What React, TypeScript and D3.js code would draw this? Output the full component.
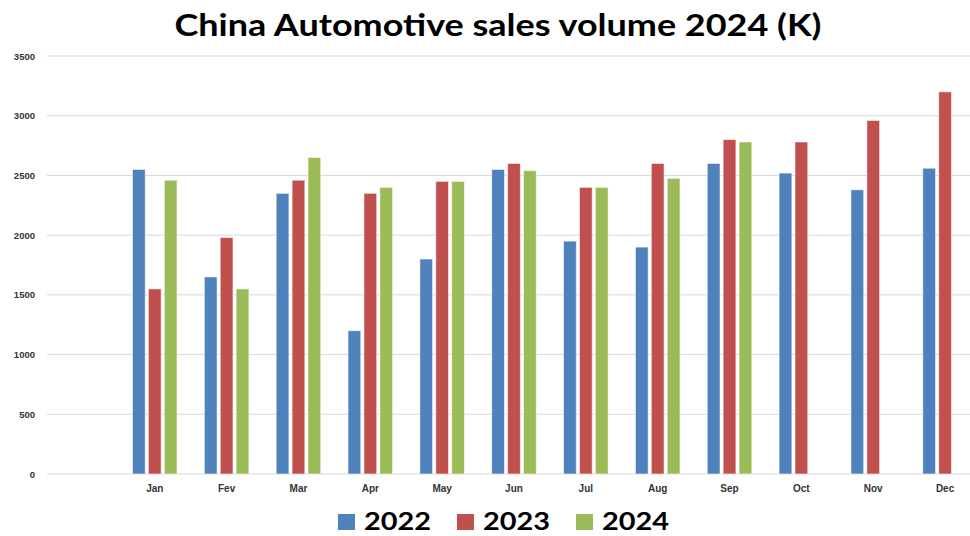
import React from "react";
import * as d3 from "d3";

const months = ["Jan", "Fev", "Mar", "Apr", "May", "Jun", "Jul", "Aug", "Sep", "Oct", "Nov", "Dec"];
const years = ["2022", "2023", "2024"];
const sales2022 = [2550, 1650, 2350, 1200, 1800, 2550, 1950, 1900, 2600, 2520, 2380, 2560];
const sales2023 = [1550, 1980, 2460, 2350, 2450, 2600, 2400, 2600, 2800, 2780, 2960, 3200];
const sales2024 = [2460, 1550, 2650, 2400, 2450, 2540, 2400, 2475, 2780, null, null, null];
const yTicks = [0, 500, 1000, 1500, 2000, 2500, 3000, 3500];
const colors = ["#4F81BD", "#C0504D", "#9BBB59"];

const W = 970;
const H = 536;

export default function App() {
  const series = [sales2022, sales2023, sales2024];

  // first slot is an empty category, like in the source chart
  const x0 = d3
    .scaleBand<string>()
    .domain(["", ...months])
    .range([47, 981])
    .paddingInner(0.38)
    .paddingOuter(0.19);

  const x1 = d3
    .scaleBand<string>()
    .domain(years)
    .range([0, x0.bandwidth()])
    .paddingInner(0.2);

  const y = d3.scaleLinear().domain([0, 3500]).range([474, 56]);

  return (
    <svg
      width={W}
      height={H}
      style={{ position: "absolute", left: 0, top: 0, background: "#fff" }}
    >
      <text
        x={498}
        y={36}
        textAnchor="middle"
        fontFamily="Lato, 'Open Sans', sans-serif"
        fontWeight="bold"
        fontSize={30}
        textLength={647}
        lengthAdjust="spacingAndGlyphs"
        fill="#000"
      >
        China Automotive sales volume 2024 (K)
      </text>

      {yTicks.map((t) => (
        <g key={t}>
          <line x1={47} x2={W} y1={y(t)} y2={y(t)} stroke="#D9D9D9" strokeWidth={1} />
          <text
            x={35}
            y={y(t) + 3.5}
            textAnchor="end"
            fontFamily="'Liberation Sans', Arial, sans-serif"
            fontWeight="bold"
            fontSize={9.5}
            fill="#333"
          >
            {t}
          </text>
        </g>
      ))}

      {months.map((m, i) => (
        <g key={m} transform={`translate(${x0(m)},0)`}>
          {series.map((s, k) => {
            const v = s[i];
            if (v == null) return null;
            return (
              <rect
                key={years[k]}
                x={x1(years[k])}
                y={y(v)}
                width={x1.bandwidth()}
                height={y(0) - y(v)}
                fill={colors[k]}
                stroke="rgba(255,255,255,0.55)"
                strokeWidth={1}
              />
            );
          })}
          <text
            x={x0.bandwidth() / 2}
            y={492}
            textAnchor="middle"
            fontFamily="'Liberation Sans', Arial, sans-serif"
            fontWeight="bold"
            fontSize={10}
            fill="#333"
          >
            {m}
          </text>
        </g>
      ))}

      {years.map((yr, k) => (
        <g key={yr} transform={`translate(${338 + k * 119},0)`}>
          <rect x={0} y={514} width={17} height={16} fill={colors[k]} />
          <text
            x={26}
            y={530}
            fontFamily="Lato, 'Open Sans', sans-serif"
            fontWeight="bold"
            fontSize={25}
            textLength={67}
            lengthAdjust="spacingAndGlyphs"
            fill="#000"
          >
            {yr}
          </text>
        </g>
      ))}
    </svg>
  );
}
